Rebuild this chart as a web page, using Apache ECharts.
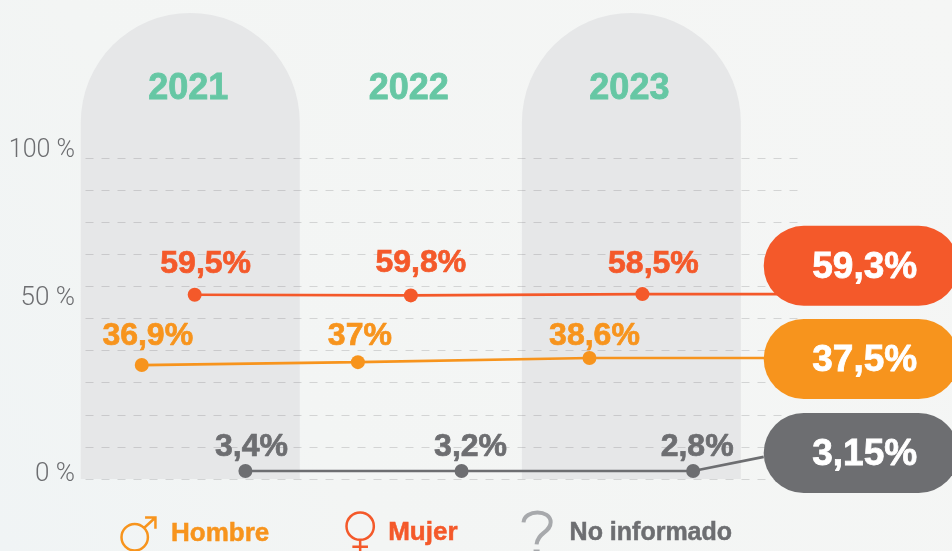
<!DOCTYPE html>
<html><head><meta charset="utf-8">
<style>html,body{margin:0;padding:0;background:#f4f6f5}#c{width:952px;height:551px}</style>
<script src="https://cdn.jsdelivr.net/npm/echarts@6/dist/echarts.min.js"></script>
</head><body><div id="c"></div>
<script>
// Year tick labels
const years = [2021, 2022, 2023];
// Years that carry a shaded arch
const archYears = [2021, 2023];
// Printed value labels
const mujerLabels = ['59,5%', '59,8%', '58,5%'];
const hombreLabels = ['36,9%', '37%', '38,6%'];
const noInfoLabels = ['3,4%', '3,2%', '2,8%'];
// Printed y tick labels, and where the picture places them on the scale
const yTickLabels = ['0 %', '50 %', '100 %'];
const yTickAt = [1.3, 56.3, 100];
// Heights as drawn in the picture (the artwork does not plot the printed numbers to scale)
const mujerY = [57.4, 57.2, 57.6, 57.6];
const hombreY = [35.5, 36.4, 37.7, 37.7];
const noInfoY = [2.5, 2.5, 2.5, 6.9];
// Horizontal place of each point on the year scale
const mujerX = [2021.02, 2022.0, 2023.05, 2023.77];
const hombreX = [2020.78, 2021.76, 2022.81, 2023.77];
const noInfoX = [2021.25, 2022.23, 2023.28, 2023.6];
// Summary pills
const pillLabels = ['59,3%', '37,5%', '3,15%'];
const pillY = [66.4, 37.4, 8.1];

const ORANGE = '#f7941d', RED = '#f4592a', GRAY = '#6d6e71', GREEN = '#66c7a4';
const FONT = '"Liberation Sans", Arial, sans-serif';
const pillColors = [RED, ORANGE, GRAY];

function lineSeries(name, color, xs, ys, labels, offsets) {
  return {
    name, type: 'line', z: 3, clip: false, silent: true,
    lineStyle: { color, width: 2.7 }, itemStyle: { color },
    symbol: 'circle', symbolSize: 14,
    data: xs.map((x, i) => {
      const hasLabel = i < labels.length;
      return {
        value: [x, ys[i]],
        symbol: hasLabel ? 'circle' : 'none',
        label: hasLabel ? {
          show: true, position: 'inside', formatter: labels[i], offset: offsets[i],
          color, fontFamily: FONT, fontWeight: 'bold', fontSize: 32,
          textBorderColor: color, textBorderWidth: 0.7
        } : { show: false }
      };
    })
  };
}

function legendFor(name, color, icon, left, top, itemWidth, itemHeight, borderWidth, fontSize) {
  return {
    left, top, itemWidth, itemHeight, selectedMode: false, padding: 0,
    textStyle: { color, fontFamily: FONT, fontWeight: 'bold', fontSize, textBorderColor: color, textBorderWidth: 0.5 },
    data: [{ name, icon, itemStyle: { color: 'none', borderColor: name === 'No informado' ? '#a7a9ac' : color, borderWidth } }]
  };
}

const chart = echarts.init(document.getElementById('c'), null, { renderer: 'canvas' });
chart.setOption({
  animation: false,
  backgroundColor: {
    type: 'linear', x: 0, y: 1, x2: 1, y2: 0,
    colorStops: [{ offset: 0, color: '#f0f4f5' }, { offset: 0.3, color: '#f3f5f4' }, { offset: 1, color: '#f5f6f5' }]
  },
  grid: { left: 80, right: 153, top: 158, bottom: 72 },
  xAxis: {
    type: 'value', position: 'top', min: 2020.5, max: 2023.76,
    axisLine: { show: false }, axisTick: { show: false }, splitLine: { show: false },
    axisLabel: {
      customValues: years, margin: 51, formatter: v => String(Math.round(v)),
      color: GREEN, fontFamily: FONT, fontWeight: 'bold', fontSize: 36, padding: [0, 4, 0, 0],
      textBorderColor: GREEN, textBorderWidth: 0.8,
      showMinLabel: true, showMaxLabel: true
    }
  },
  yAxis: {
    type: 'value', min: 0, max: 100, interval: 10, z: 1,
    axisLine: { show: false }, axisTick: { show: false },
    splitLine: { show: true, lineStyle: { color: 'rgba(109,110,113,0.24)', width: 1, type: [8, 8], dashOffset: 10.5 } },
    axisLabel: {
      customValues: yTickAt, margin: 5,
      formatter: v => v === 100 ? '{top|' + yTickLabels[2] + '}' : yTickLabels[yTickAt.indexOf(v)],
      rich: { top: { color: GRAY, fontFamily: 'Roboto, sans-serif', fontWeight: 300, fontSize: 25, padding: [0, 0, 14, 0] } },
      color: GRAY, fontFamily: 'Roboto, sans-serif', fontWeight: 300, fontSize: 26
    }
  },
  legend: [
    legendFor('Hombre', ORANGE,
      'path://M25 0 L36 0 L36 12 M36 0 L23.9 11.1 A14 14 0 0 0 4.1 30.9 A14 14 0 0 0 23.9 11.1',
      119, 515, 55, 33, 2.5, 26),
    legendFor('Mujer', RED,
      'path://M14 0 A14 14 0 0 1 14 28 A14 14 0 0 1 14 0 Z M14 28 L14 42 M6 35 L22 35',
      344, 510, 46, 41, 2.5, 26),
    legendFor('No informado', GRAY,
      'path://M2 10 C3 -3 29 -3 29 10 C29 20 16 20 15 32 M14 39 L16 39 L16 41 L14 41 Z',
      521, 510, 55, 41, 4, 25)
  ],
  series: [
    {
      type: 'custom', name: 'arches', z: 0, silent: true, clip: false,
      encode: { x: 0 },
      data: archYears.map(y => [y]),
      renderItem(params, api) {
        const c = api.coord([api.value(0), 0]);
        const w = 219, top = 13;
        return {
          type: 'rect',
          shape: { x: c[0] - w / 2, y: top, width: w, height: c[1] - top, r: [110, 110, 0, 0] },
          style: { fill: '#e6e7e8' }
        };
      }
    },
    lineSeries('Mujer', RED, mujerX, mujerY, mujerLabels, [[11, -31], [10, -32], [11, -30]]),
    lineSeries('Hombre', ORANGE, hombreX, hombreY, hombreLabels, [[6, -29], [2, -26], [5, -22]]),
    lineSeries('No informado', GRAY, noInfoX, noInfoY, noInfoLabels, [[6, -24], [9, -24], [4, -24]]),
    {
      type: 'custom', name: 'pills', z: 5, silent: true, clip: false,
      encode: { y: 0 },
      data: pillY.map((y, i) => [y, i]),
      renderItem(params, api) {
        const i = api.value(1);
        const c = api.coord([2023.6, api.value(0)]);
        const h = 80, w = 195;
        return {
          type: 'group',
          children: [
            { type: 'rect', shape: { x: c[0], y: c[1] - h / 2, width: w, height: h, r: 40 }, style: { fill: pillColors[i] } },
            { type: 'text', style: {
                x: c[0] + 101, y: c[1] + 2, text: pillLabels[i], fill: '#fff', align: 'center', verticalAlign: 'middle',
                font: 'bold 37px ' + FONT, stroke: '#fff', lineWidth: 0.8
              } }
          ]
        };
      }
    }
  ]
});
</script></body></html>
